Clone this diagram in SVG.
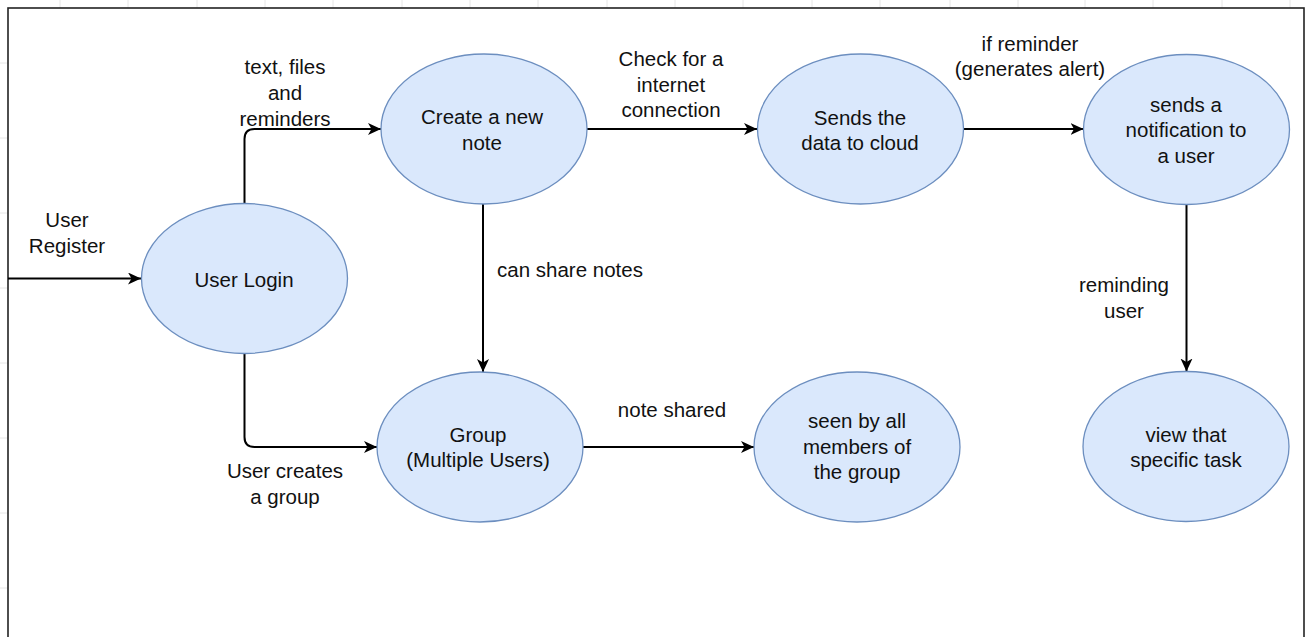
<svg xmlns="http://www.w3.org/2000/svg" width="1308" height="637" viewBox="0 0 1308 637">
<style>
.grid{stroke:#e6e6e6;stroke-width:1}
.node ellipse{fill:#dae8fc;stroke:#6c8ebf;stroke-width:1.3}
text{font-family:"Liberation Sans",Arial,sans-serif;font-size:20.5px;fill:#111;text-anchor:middle}
.edge{fill:none;stroke:#000;stroke-width:2;marker-end:url(#arr)}
</style>
<defs>
<marker id="arr" markerUnits="userSpaceOnUse" markerWidth="14" markerHeight="13" refX="13" refY="6" orient="auto">
<path d="M0,0 L13,6 L0,12 L3.5,6 Z" fill="#000"/>
</marker>
</defs>
<rect width="1308" height="637" fill="#fff"/>
<g id="grid">
<path class="grid" d="M60,0V8M128,0V8M197,0V8M265,0V8M333,0V8M402,0V8M470,0V8M538,0V8M607,0V8M675,0V8M743,0V8M812,0V8M880,0V8M950,0V8M1018,0V8M1085,0V8M1153,0V8M1222,0V8M1290,0V8"/>
<path class="grid" d="M0,63H8M0,138H8M0,213H8M0,288H8M0,363H8M0,438H8M0,513H8M0,588H8"/>
</g>
<rect id="frame" x="8" y="8" width="1296" height="640" fill="none" stroke="#222" stroke-width="1.6"/>
<g id="connectors">
<path class="edge" d="M8,278.5 H141"/>
<path class="edge" d="M244.5,203.5 V139 Q244.5,129 254.5,129 H381"/>
<path class="edge" d="M244.5,353.5 V437 Q244.5,447 254.5,447 H377"/>
<path class="edge" d="M587,129 H757"/>
<path class="edge" d="M963.5,129 H1083.5"/>
<path class="edge" d="M483,204 V372"/>
<path class="edge" d="M583,447 H754"/>
<path class="edge" d="M1186.5,204.5 V371.5"/>
</g>
<g id="edge-labels">
<text x="67" y="227">User</text>
<text x="67" y="253">Register</text>
<text x="285" y="74">text, files</text>
<text x="285" y="100">and</text>
<text x="285" y="126">reminders</text>
<text x="285" y="478">User creates</text>
<text x="285" y="504">a group</text>
<text x="671" y="66">Check for a</text>
<text x="671" y="92">internet</text>
<text x="671" y="117">connection</text>
<text x="1030" y="51">if reminder</text>
<text x="1030" y="76">(generates alert)</text>
<text x="570" y="277">can share notes</text>
<text x="672" y="417">note shared</text>
<text x="1124" y="292">reminding</text>
<text x="1124" y="318">user</text>
</g>
<g id="user-login" class="node">
<ellipse cx="244.5" cy="278.5" rx="103" ry="75"/>
<text x="244" y="287">User Login</text>
</g>
<g id="create-note" class="node">
<ellipse cx="484" cy="129" rx="103" ry="75"/>
<text x="482" y="124">Create a new</text>
<text x="482" y="150">note</text>
</g>
<g id="sends-data" class="node">
<ellipse cx="860.5" cy="129" rx="103" ry="75"/>
<text x="860" y="125">Sends the</text>
<text x="860" y="150">data to cloud</text>
</g>
<g id="notification" class="node">
<ellipse cx="1186.5" cy="129.5" rx="103" ry="75"/>
<text x="1186" y="112">sends a</text>
<text x="1186" y="137">notification to</text>
<text x="1186" y="163">a user</text>
</g>
<g id="group" class="node">
<ellipse cx="480" cy="447" rx="103" ry="75"/>
<text x="478" y="442">Group</text>
<text x="478" y="467">(Multiple Users)</text>
</g>
<g id="seen-by-all" class="node">
<ellipse cx="857" cy="447" rx="103" ry="75"/>
<text x="857" y="428">seen by all</text>
<text x="857" y="454">members of</text>
<text x="857" y="479">the group</text>
</g>
<g id="view-task" class="node">
<ellipse cx="1186" cy="446.5" rx="103" ry="75"/>
<text x="1186" y="442">view that</text>
<text x="1186" y="467">specific task</text>
</g>
</svg>
